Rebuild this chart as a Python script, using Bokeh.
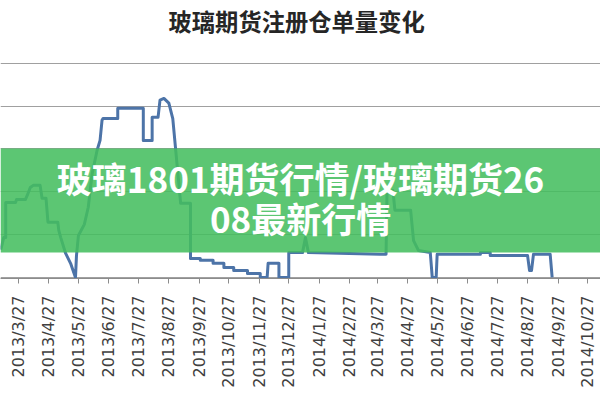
import math
import pandas as pd
from bokeh.plotting import figure
from bokeh.models import Range1d, FixedTicker, BoxAnnotation, Label
from bokeh.embed import file_html
from bokeh.resources import INLINE

# ---------------- data ----------------
title_text = "玻璃期货注册仓单量变化"
banner_line1 = "玻璃1801期货行情/玻璃期货26"
banner_line2 = "08最新行情"

tick_dates = ["2013-03-27", "2013-04-27", "2013-05-27", "2013-06-27", "2013-07-27",
              "2013-08-27", "2013-09-27", "2013-10-27", "2013-11-27", "2013-12-27",
              "2014-01-27", "2014-02-27", "2014-03-27", "2014-04-27", "2014-05-27",
              "2014-06-27", "2014-07-27", "2014-08-27", "2014-09-27", "2014-10-27"]
tick_labels = ["2013/3/27", "2013/4/27", "2013/5/27", "2013/6/27", "2013/7/27",
               "2013/8/27", "2013/9/27", "2013/10/27", "2013/11/27", "2013/12/27",
               "2014/1/27", "2014/2/27", "2014/3/27", "2014/4/27", "2014/5/27",
               "2014/6/27", "2014/7/27", "2014/8/27", "2014/9/27", "2014/10/27"]

dates = ["2013-03-09", "2013-03-12", "2013-03-14", "2013-03-14", "2013-03-24",
         "2013-03-25", "2013-04-03", "2013-04-05", "2013-04-08", "2013-04-11",
         "2013-04-18", "2013-04-20", "2013-04-24", "2013-04-26", "2013-05-06",
         "2013-05-07", "2013-05-09", "2013-05-14", "2013-05-19", "2013-05-24",
         "2013-05-25", "2013-05-27", "2013-06-02", "2013-06-06", "2013-06-10",
         "2013-06-15", "2013-06-18", "2013-06-20", "2013-06-21", "2013-07-06",
         "2013-07-06", "2013-08-01", "2013-08-01", "2013-08-10", "2013-08-10",
         "2013-08-16", "2013-08-18", "2013-08-22", "2013-08-27", "2013-08-31",
         "2013-09-08", "2013-09-18", "2013-09-18", "2013-09-28", "2013-09-28",
         "2013-10-11", "2013-10-11", "2013-10-22", "2013-10-22", "2013-11-01",
         "2013-11-01", "2013-11-15", "2013-11-15", "2013-11-28", "2013-11-28",
         "2013-12-05", "2013-12-06", "2013-12-17", "2013-12-17", "2013-12-27",
         "2013-12-27", "2014-01-10", "2014-01-13", "2014-01-16", "2014-03-30",
         "2014-04-05", "2014-04-06", "2014-04-12", "2014-04-14", "2014-04-30",
         "2014-05-03", "2014-05-08", "2014-05-20", "2014-05-22", "2014-05-26",
         "2014-05-27", "2014-07-10", "2014-07-10", "2014-07-20", "2014-07-20",
         "2014-08-27", "2014-08-29", "2014-08-31", "2014-09-02", "2014-09-19",
         "2014-09-21"]
volumes = [650, 930, 930, 1750, 1750,
           1820, 1820, 1920, 2100, 2150,
           2150, 1850, 1850, 1290, 1290,
           1100, 930, 560, 330, 0,
           510, 980, 1240, 1640, 2430,
           2970, 3200, 3670, 3710, 3710,
           3950, 3950, 3200, 3200, 3740,
           3740, 4140, 4180, 4070, 3710,
           1730, 1730, 440, 440, 400,
           400, 330, 330, 230, 230,
           160, 160, 90, 90, 0,
           0, 330, 330, 0, 0,
           580, 580, 930, 580, 540,
           540, 2030, 2030, 1570, 1570,
           860, 630, 580, 0, 0,
           540, 540, 580, 580, 510,
           510, 160, 160, 540, 540,
           0]
grid_values = [0, 1000, 2000, 3000, 4000, 5000]

# ---------------- build ----------------
origin = pd.Timestamp(tick_dates[0])


def day(s):
    return (pd.Timestamp(s) - origin).days


xs = [day(s) for s in dates]
ticks = [day(s) for s in tick_dates]

p = figure(frame_width=600, frame_height=239,
           x_range=Range1d(-18.3, 592.2), y_range=Range1d(-25, 5557),
           output_backend="svg", toolbar_location=None,
           min_border_left=0, min_border_right=0, min_border_top=39,
           min_border_bottom=0, title=title_text)
p.outline_line_color = None
p.background_fill_color = "white"
p.border_fill_color = "white"

p.title.text_font = "Noto Sans CJK SC"
p.title.text_font_size = "23.3px"
p.title.text_font_style = "bold"
p.title.text_color = "#262626"
p.title.align = "left"
p.title.offset = 168
p.title.standoff = 0
p.title.vertical_align = "top"

xa = p.xaxis[0]
xa.ticker = FixedTicker(ticks=ticks)
xa.major_label_overrides = {t: l for t, l in zip(ticks, tick_labels)}
xa.major_label_orientation = math.pi / 2
xa.minor_tick_line_color = None
xa.major_tick_in = 0
xa.major_tick_out = 5
xa.axis_line_color = "#8c8c8c"
xa.major_tick_line_color = "#8c8c8c"
xa.major_label_text_font = "DejaVu Sans"
xa.major_label_text_font_size = "16px"
xa.major_label_text_color = "#404040"
xa.major_label_standoff = 12

p.yaxis.visible = False
p.xgrid.visible = False
p.ygrid.ticker = FixedTicker(ticks=grid_values)
p.ygrid.grid_line_color = "#a0a0a0"
p.ygrid.grid_line_width = 1.2

p.line(xs, volumes, line_width=3, line_color="#4d74a8", line_join="round")

# overlay banner (positions in data units of the plot)
banner = BoxAnnotation(bottom=582, top=3011, fill_color="#44be5e", fill_alpha=0.87,
                       line_color=None)
p.add_layout(banner)
for txt, yy in [(banner_line1, 2330), (banner_line2, 1400)]:
    p.add_layout(Label(x=287, y=yy, text=txt, text_align="center",
                       text_baseline="middle", text_color="white",
                       text_font="Noto Sans CJK SC", text_font_style="bold",
                       text_font_size="35px"))

open("out.html", "w").write(file_html(p, INLINE))
